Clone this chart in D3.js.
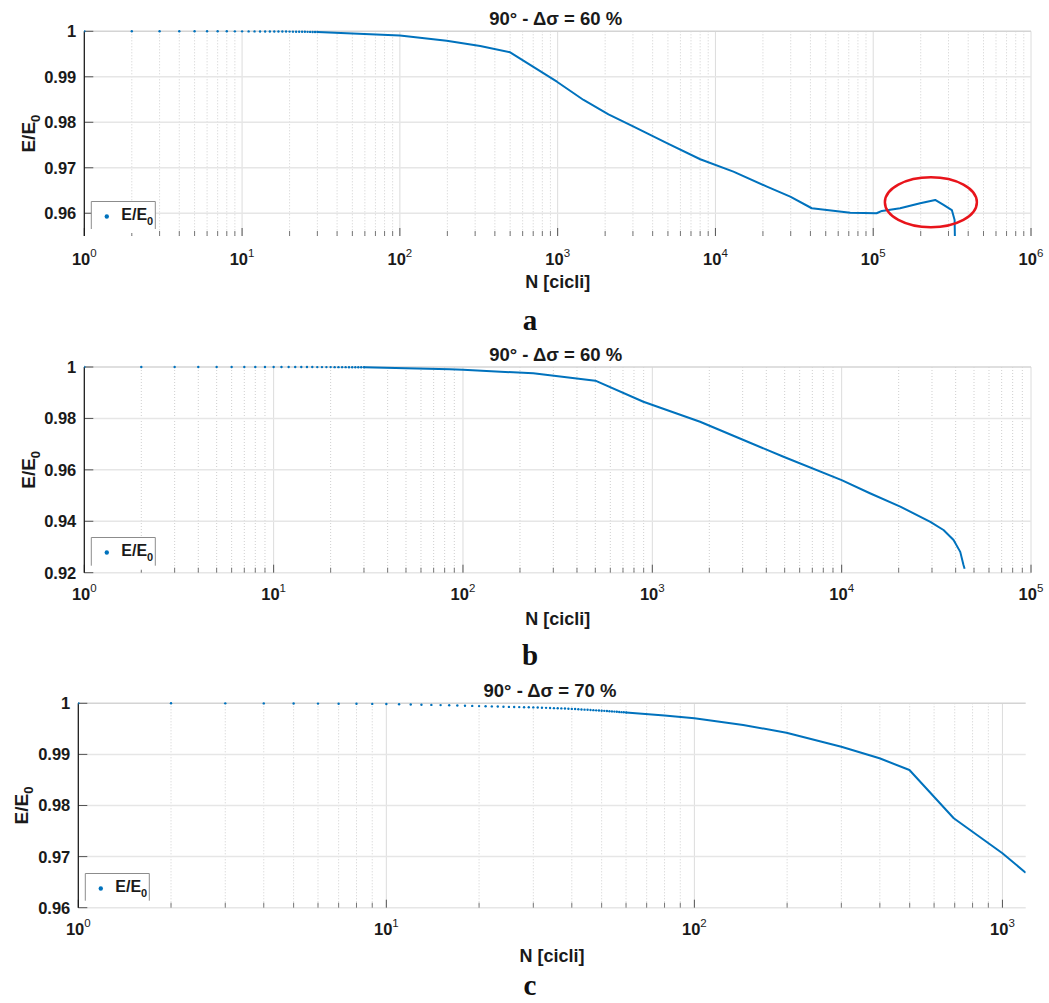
<!DOCTYPE html>
<html>
<head>
<meta charset="utf-8">
<script src="https://cdn.jsdelivr.net/npm/d3@7"></script>
<style>
  body { margin: 0; background: #fff; }
  svg { display: block; }
  .lbl { font-family: "Liberation Sans", Arial, sans-serif; font-weight: bold; fill: #1a1a1a; }
  .letter { font-family: "Liberation Serif", "DejaVu Serif", serif; font-weight: bold; fill: #111; }
</style>
</head>
<body>
<div id="chart"></div>
<script>
// ---- data ----

// panel a : 90° - Δσ = 60 %
var titleA = '90° - Δσ = 60 %';
var dotsNa = [1,2,3,4,5,6,7,8,9,10,11,12,13,14,15,16,17,18,19,20,21,22,23,24,25,26,27,28,29,30];
var dotsEa = [1,1,1,1,1,1,1,1,0.99999,0.99999,0.99998,0.99998,0.99997,0.99997,0.99996,0.99996,0.99995,0.99994,0.99994,0.99993,
              0.99992,0.99991,0.9999,0.9999,0.99989,0.99988,0.99987,0.99986,0.99986,0.99985];
var curveNa = [30, 46, 100, 198, 323, 500, 990, 1460, 2100, 3030, 5000, 8010, 13000, 21200, 29800, 40800, 50800, 71500,
               105000, 113500, 148000, 198500, 247000, 279000, 315000, 328000, 331000];
var curveEa = [0.99985, 0.99956, 0.9991, 0.99794, 0.99677, 0.99538, 0.98892, 0.9849, 0.98175, 0.97903, 0.9753, 0.97187,
               0.96914, 0.96585, 0.96365, 0.9611, 0.96073, 0.96013, 0.96, 0.96051, 0.9611, 0.9622, 0.96293, 0.96182,
               0.9607, 0.9585, 0.95];
var xTicksA = [1, 10, 100, 1000, 10000, 100000, 1000000];
var yTicksA = [0.96, 0.97, 0.98, 0.99, 1];
var yLabelsA = ['0.96', '0.97', '0.98', '0.99', '1'];
var circleA = { n: 232000, e: 0.96242 };

// panel b : 90° - Δσ = 60 %
var titleB = '90° - Δσ = 60 %';
var dotsNb = [1,2,3,4,5,6,7,8,9,10,11,12,13,14,15,16,17,18,19,20,21,22,23,24,25,26,27,28,29,30];
var dotsEb = [1,1,1,1,1,1,1,1,1,1,0.99999,0.99999,0.99999,0.99998,0.99998,0.99998,0.99997,0.99997,0.99996,0.99996,
              0.99995,0.99995,0.99994,0.99994,0.99993,0.99992,0.99992,0.99991,0.9999,0.9999];
var curveNb = [30, 50, 85, 100, 235, 500, 897, 1787, 3030, 4930, 10000, 14100, 20400, 29400, 34500, 39000, 42300, 44000, 44600];
var curveEb = [0.9999, 0.99955, 0.9991, 0.9989, 0.99755, 0.99467, 0.9865, 0.9787, 0.9716, 0.9651, 0.956, 0.9509,
               0.9457, 0.9398, 0.9366, 0.9327, 0.9281, 0.923, 0.9215];
var xTicksB = [1, 10, 100, 1000, 10000, 100000];
var yTicksB = [0.92, 0.94, 0.96, 0.98, 1];
var yLabelsB = ['0.92', '0.94', '0.96', '0.98', '1'];

// panel c : 90° - Δσ = 70 %
var titleC = '90° - Δσ = 70 %';
var dotsNc = [1,2,3,4,5,6,7,8,9,10,11,12,13,14,15,16,17,18,19,20,21,22,23,24,25,26,27,28,29,30,
              31,32,33,34,35,36,37,38,39,40,41,42,43,44,45,46,47,48,49,50,51,52,53,54,55,56,57,58,59,60];
var dotsEc = [1,1,0.99999,0.99998,0.99996,0.99994,0.99992,0.9999,0.99988,0.99985,
              0.99981,0.99977,0.99973,0.99969,0.99965,0.99961,0.99957,0.99953,0.99949,0.99945,
              0.99942,0.99939,0.99936,0.99933,0.9993,0.99928,0.99926,0.99924,0.99922,0.9992,
              0.99917,0.99914,0.99911,0.99908,0.99905,0.99902,0.999,0.99897,0.99894,0.9989,
              0.99887,0.99883,0.9988,0.99876,0.99873,0.99869,0.99866,0.99862,0.99859,0.99855,
              0.99852,0.99848,0.99845,0.99841,0.99838,0.99834,0.99831,0.99827,0.99824,0.9982];
var curveNc = [60, 80, 100, 144, 199, 300, 399, 499, 695, 1000, 1190];
var curveEc = [0.9982, 0.9976, 0.99706, 0.99575, 0.99425, 0.99151, 0.98924, 0.98695, 0.9775, 0.97065, 0.96685];
var xTicksC = [1, 10, 100, 1000];
var yTicksC = [0.96, 0.97, 0.98, 0.99, 1];
var yLabelsC = ['0.96', '0.97', '0.98', '0.99', '1'];

var legendText = 'E/E';
var xTitle = 'N [cicli]';
var blue = '#0072BD';

var svg = d3.select('#chart').append('svg')
    .attr('width', 1049)
    .attr('height', 1003);

function drawPanel(p) {
    var x = d3.scaleLog().domain(p.xDomain).range([p.left, p.right]),
        y = d3.scaleLinear().domain(p.yDomain).range([p.bottom, p.top]),
        g = svg.append('g');

    var clipId = 'clip-' + p.letter;
    svg.append('clipPath').attr('id', clipId)
        .append('rect')
        .attr('x', p.left).attr('y', p.top - 3)
        .attr('width', p.right - p.left).attr('height', p.bottom - p.top + 3);

    // grid: minor vertical (dotted) + decades (solid)
    var allTicks = x.ticks().filter(function(t) { return t <= p.xDomain[1] * 1.0001; });
    var isDecade = function(t) { return Math.abs(Math.log10(t) - Math.round(Math.log10(t))) < 1e-9; };

    g.selectAll('.minor').data(allTicks.filter(function(t) { return !isDecade(t); }))
        .enter().append('line')
        .attr('x1', function(d) { return x(d); }).attr('x2', function(d) { return x(d); })
        .attr('y1', p.top).attr('y2', p.bottom)
        .attr('stroke', '#cfcfcf').attr('stroke-width', 1)
        .attr('stroke-dasharray', '1,2');

    g.selectAll('.major').data(p.xTicks)
        .enter().append('line')
        .attr('x1', function(d) { return x(d); }).attr('x2', function(d) { return x(d); })
        .attr('y1', p.top).attr('y2', p.bottom)
        .attr('stroke', '#dcdcdc').attr('stroke-width', 1);

    g.selectAll('.hgrid').data(p.yTicks)
        .enter().append('line')
        .attr('x1', p.left).attr('x2', p.right)
        .attr('y1', function(d) { return y(d); }).attr('y2', function(d) { return y(d); })
        .attr('stroke', function(d, i) { return i === p.yTicks.length - 1 ? '#d4d4d4' : '#e6e6e6'; })
        .attr('stroke-width', 1.5);

    // x ticks (pointing up from bottom)
    g.selectAll('.xtick').data(allTicks)
        .enter().append('line')
        .attr('x1', function(d) { return x(d); }).attr('x2', function(d) { return x(d); })
        .attr('y1', p.bottom)
        .attr('y2', function(d) { return p.bottom - (isDecade(d) ? 8 : 5); })
        .attr('stroke', function(d) { return isDecade(d) ? '#555' : '#777'; })
        .attr('stroke-width', 1);

    // y ticks (pointing right)
    g.selectAll('.ytick').data(p.yTicks)
        .enter().append('line')
        .attr('x1', p.left).attr('x2', p.left + 9)
        .attr('y1', function(d) { return y(d); }).attr('y2', function(d) { return y(d); })
        .attr('stroke', '#555').attr('stroke-width', 1);

    // left axis line
    g.append('line')
        .attr('x1', p.left).attr('x2', p.left)
        .attr('y1', p.top).attr('y2', p.bottom)
        .attr('stroke', '#111').attr('stroke-width', 1.2);

    // y tick labels
    g.selectAll('.ylab').data(p.yTicks)
        .enter().append('text')
        .attr('class', 'lbl')
        .attr('x', p.left - 8)
        .attr('y', function(d) { return y(d); })
        .attr('dy', '0.36em')
        .attr('text-anchor', 'end')
        .style('font-size', '16.5px')
        .text(function(d, i) { return p.yLabels[i]; });

    // x tick labels 10^k
    var xl = g.selectAll('.xlab').data(p.xTicks)
        .enter().append('text')
        .attr('class', 'lbl')
        .attr('x', function(d) { return x(d); })
        .attr('y', p.bottom + p.xLabOff)
        .attr('text-anchor', 'middle')
        .style('font-size', '16.5px');
    xl.append('tspan').text('10');
    xl.append('tspan')
        .attr('dy', -8)
        .style('font-size', '11.5px')
        .style('font-weight', 'normal')
        .text(function(d) { return Math.round(Math.log10(d)); });

    // titles
    g.append('text').attr('class', 'lbl')
        .attr('x', (p.left + p.right) / 2 - 2)
        .attr('y', p.top - 6)
        .attr('text-anchor', 'middle')
        .style('font-size', '18.5px')
        .text(p.title);

    g.append('text').attr('class', 'lbl')
        .attr('x', (p.left + p.right) / 2)
        .attr('y', p.bottom + p.xTitleOff)
        .attr('text-anchor', 'middle')
        .style('font-size', '18px')
        .text(xTitle);

    var yl = g.append('text').attr('class', 'lbl')
        .attr('transform', 'translate(' + p.yTitleX + ',' + ((p.top + p.bottom) / 2) + ') rotate(-90)')
        .attr('text-anchor', 'middle')
        .style('font-size', '19px');
    yl.append('tspan').text('E/E');
    yl.append('tspan').attr('dy', 5).style('font-size', '13px').text('0');

    g.append('text').attr('class', 'letter')
        .attr('x', 530)
        .attr('y', p.bottom + p.letterOff)
        .attr('text-anchor', 'middle')
        .style('font-size', '29px')
        .text(p.letter);

    // data
    var plot = g.append('g').attr('clip-path', 'url(#' + clipId + ')');

    var line = d3.line()
        .x(function(d) { return x(d[0]); })
        .y(function(d) { return y(d[1]); });

    plot.append('path')
        .datum(d3.zip(p.curveN, p.curveE))
        .attr('d', line)
        .attr('fill', 'none')
        .attr('stroke', blue)
        .attr('stroke-width', 2)
        .attr('stroke-linejoin', 'round');

    plot.selectAll('.dot').data(d3.zip(p.dotsN, p.dotsE))
        .enter().append('circle')
        .attr('cx', function(d) { return x(d[0]); })
        .attr('cy', function(d) { return y(d[1]); })
        .attr('r', 1.2)
        .attr('fill', blue);

    if (p.circle) {
        g.append('ellipse')
            .attr('cx', x(p.circle.n))
            .attr('cy', y(p.circle.e))
            .attr('rx', 46)
            .attr('ry', 25)
            .attr('fill', 'none')
            .attr('stroke', '#e8141b')
            .attr('stroke-width', 2.5);
    }

    // legend (bottom edge hidden as in the source)
    var lx = p.left + p.legDx, ly = p.legTop, lw = 64, lh = p.bottom - 7 - p.legTop;
    g.append('rect')
        .attr('x', lx).attr('y', ly).attr('width', lw).attr('height', lh + 4)
        .attr('fill', '#fff');
    g.append('path')
        .attr('d', 'M' + lx + ',' + (ly + lh) + 'V' + ly + 'H' + (lx + lw) + 'V' + (ly + lh))
        .attr('fill', 'none')
        .attr('stroke', '#8c8c8c')
        .attr('stroke-width', 1);
    g.append('circle')
        .attr('cx', lx + 15.5).attr('cy', ly + 15)
        .attr('r', 2.2).attr('fill', blue);
    var lt = g.append('text').attr('class', 'lbl')
        .attr('x', lx + 30).attr('y', ly + 18)
        .style('font-size', '16px');
    lt.append('tspan').text(legendText);
    lt.append('tspan').attr('dy', 5).style('font-size', '11px').text('0');
}

drawPanel({
    letter: 'a', title: titleA,
    left: 84.3, right: 1031, top: 31.3, bottom: 236,
    xDomain: [1, 1000000], yDomain: [0.955, 1],
    xTicks: xTicksA, yTicks: yTicksA, yLabels: yLabelsA,
    dotsN: dotsNa, dotsE: dotsEa, curveN: curveNa, curveE: curveEa,
    circle: circleA,
    xLabOff: 29, xTitleOff: 52, yTitleX: 35, letterOff: 94,
    legDx: 7, legTop: 201.5
});

drawPanel({
    letter: 'b', title: titleB,
    left: 84.3, right: 1031, top: 367, bottom: 572.7,
    xDomain: [1, 100000], yDomain: [0.92, 1],
    xTicks: xTicksB, yTicks: yTicksB, yLabels: yLabelsB,
    dotsN: dotsNb, dotsE: dotsEb, curveN: curveNb, curveE: curveEb,
    xLabOff: 27, xTitleOff: 52, yTitleX: 35, letterOff: 92,
    legDx: 7, legTop: 537.5
});

drawPanel({
    letter: 'c', title: titleC,
    left: 78.3, right: 1025.7, top: 703.3, bottom: 907.7,
    xDomain: [1, 1190], yDomain: [0.96, 1],
    xTicks: xTicksC, yTicks: yTicksC, yLabels: yLabelsC,
    dotsN: dotsNc, dotsE: dotsEc, curveN: curveNc, curveE: curveEc,
    xLabOff: 27, xTitleOff: 54, yTitleX: 28, letterOff: 87,
    legDx: 7, legTop: 873.5
});
</script>
</body>
</html>
